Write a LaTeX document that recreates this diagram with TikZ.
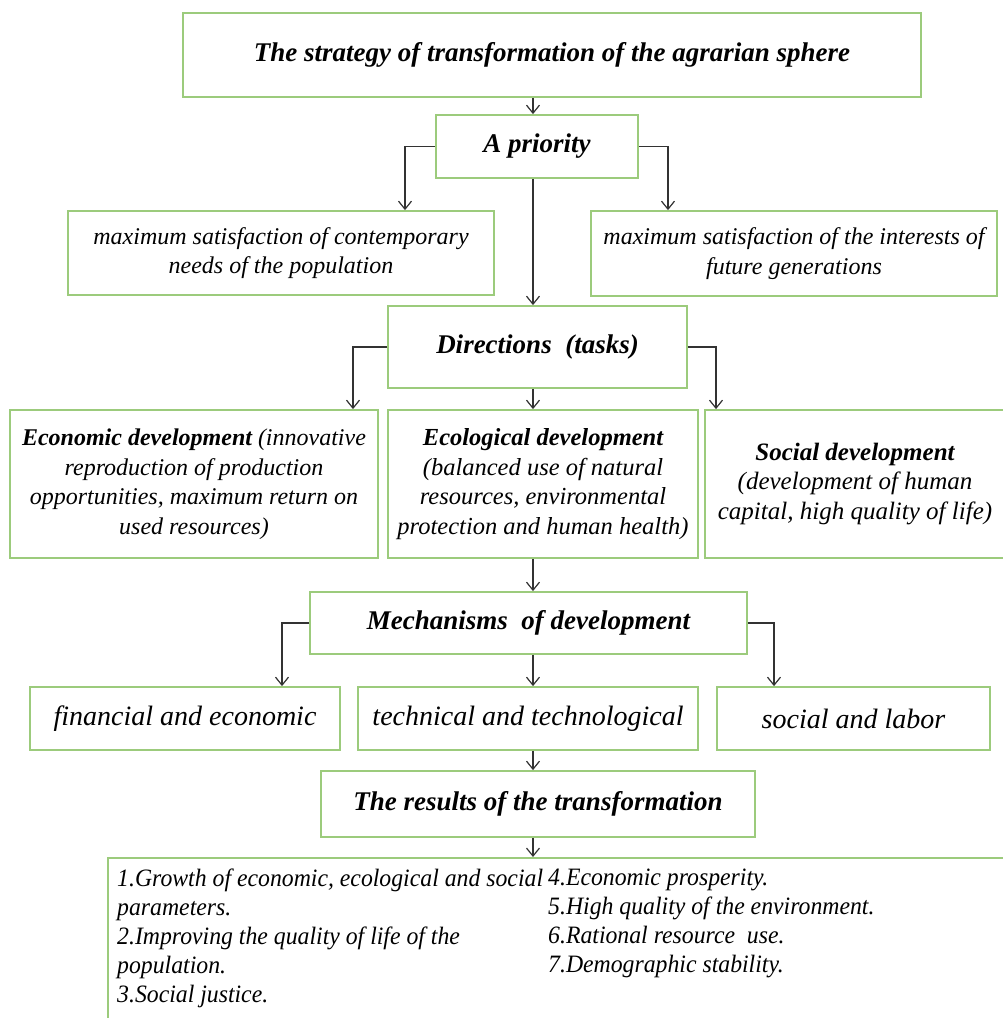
\documentclass[tikz,border=0pt]{standalone}
\usepackage{fontspec}
\setmainfont{Liberation Serif}
\newfontfamily\condfont[FakeStretch=0.95]{Liberation Serif}
\usetikzlibrary{arrows.meta}
\definecolor{boxgreen}{HTML}{9CCB7C}
\definecolor{linegray}{HTML}{333333}
\tikzset{
  box/.style={draw=boxgreen, line width=1.8pt, fill=white, inner sep=0pt, align=center},
  head/.style={font=\fontsize{27}{31}\selectfont\bfseries\itshape},
  body/.style={font=\fontsize{24}{29.5}\selectfont\itshape},
  mechtext/.style={font=\fontsize{28}{32}\selectfont\itshape},
  listtext/.style={anchor=north west, align=left, inner sep=0pt, font=\condfont\fontsize{25}{29}\selectfont\itshape},
  arr/.style={draw=linegray, line width=1.4pt, -{Straight Barb[length=8pt,width=13pt,line width=1.2pt]}},
}
\begin{document}
\begin{tikzpicture}[x=1pt,y=-1pt]
\useasboundingbox (0,0) rectangle (1003,1018);
% guide columns for the connectors
\coordinate (spine) at (533,0);
\coordinate (pl) at (405,0);
\coordinate (pr) at (668,0);
\coordinate (dl) at (353,0);
\coordinate (dr) at (716,0);
\coordinate (ml) at (282,0);
\coordinate (mr) at (774,0);

% strategy
\node[box, head, minimum width=738pt, minimum height=84pt] (top) at (552,55)
  {The strategy of transformation of the agrarian sphere};
% priority level
\node[box, head, minimum width=202pt, minimum height=63pt] (apr) at (537,146.5) {A priority};
\node[box, body, minimum width=426pt, minimum height=84pt] (needL) at (281,253)
  {maximum satisfaction of contemporary\\needs of the population};
\node[box, body, minimum width=406pt, minimum height=85pt] (needR) at (794,253.5)
  {maximum satisfaction of the interests of\\future generations};
% directions level
\node[box, head, minimum width=299pt, minimum height=82pt] (dir) at (537.5,347) {Directions\ \ (tasks)};
\node[box, body, minimum width=368pt, minimum height=148pt] (eco) at (194,484)
  {{\bfseries Economic development} (innovative\\reproduction of production\\opportunities, maximum return on\\used resources)};
\node[box, body, font=\fontsize{24.5}{29.5}\selectfont\itshape, minimum width=310pt, minimum height=148pt] (ecl) at (543,484)
  {{\bfseries Ecological development}\\(balanced use of natural\\resources,\ environmental\\protection\ and human health)};
\node[box, body, font=\fontsize{25}{29.5}\selectfont\itshape, minimum width=300pt, minimum height=148pt] (soc) at (855,484)
  {{\bfseries Social development}\\(development of human\\capital, high quality of life)};
% mechanisms level
\node[box, head, minimum width=437pt, minimum height=62pt] (mech) at (528.5,623) {Mechanisms\ \ of\ development};
\node[box, mechtext, minimum width=310pt, minimum height=63pt] (fin) at (185,718.5)
  {financial and economic};
\node[box, mechtext, minimum width=340pt, minimum height=63pt] (tech) at (528,718.5)
  {technical\ and technological};
\node[box, mechtext, minimum width=273pt, minimum height=63pt] (lab) at (853.5,718.5)
  {social and labor};
% results
\node[box, head, minimum width=434pt, minimum height=66pt] (res) at (538,804) {The results of the transformation};
\node[box, minimum width=910pt, minimum height=180pt, anchor=north west] (out) at (107,857) {};
\node[listtext] (outL) at (117,869)
  {1.Growth of economic,\ ecological and social\\parameters.\\2.Improving the quality of life of the\\population.\\3.Social justice.};
\node[listtext] (outR) at (548,869)
  {4.Economic prosperity.\\5.High quality of the environment.\\6.Rational resource\ \ use.\\7.Demographic stability.};

% connectors
\draw[arr] (spine |- top.south) -- (spine |- apr.north);
\draw[arr] (apr.west) -| (pl |- needL.north);
\draw[arr] (apr.east) -| (pr |- needR.north);
\draw[arr] (spine |- apr.south) -- (spine |- dir.north);
\draw[arr] (dir.west) -| (dl |- eco.north);
\draw[arr] (dir.east) -| (dr |- soc.north);
\draw[arr] (spine |- dir.south) -- (spine |- ecl.north);
\draw[arr] (spine |- ecl.south) -- (spine |- mech.north);
\draw[arr] (mech.west) -| (ml |- fin.north);
\draw[arr] (mech.east) -| (mr |- lab.north);
\draw[arr] (spine |- mech.south) -- (spine |- tech.north);
\draw[arr] (spine |- tech.south) -- (spine |- res.north);
\draw[arr] (spine |- res.south) -- (spine |- out.north);
\end{tikzpicture}
\end{document}
